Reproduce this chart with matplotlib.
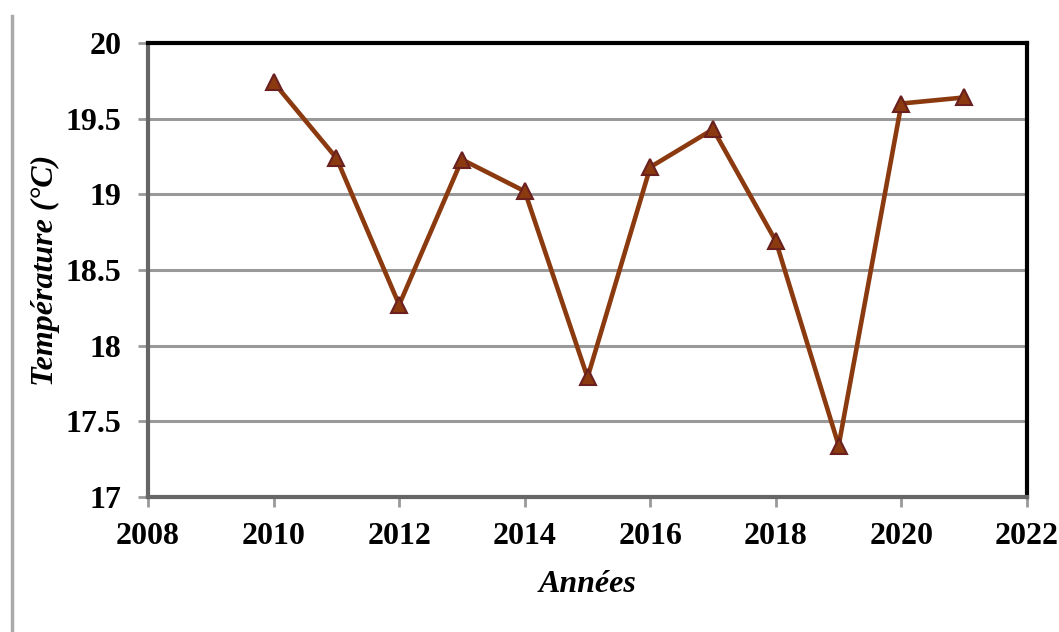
import matplotlib
matplotlib.use("Agg")
import matplotlib.pyplot as plt
from matplotlib.lines import Line2D

# Data
years = [2010, 2011, 2012, 2013, 2014, 2015, 2016, 2017, 2018, 2019, 2020, 2021]
temps = [19.74, 19.24, 18.27, 19.23, 19.02, 17.79, 19.18, 19.43, 18.69, 17.34, 19.60, 19.64]
x_ticks = [2008, 2010, 2012, 2014, 2016, 2018, 2020, 2022]
y_ticks = [17, 17.5, 18, 18.5, 19, 19.5, 20]
y_labels = ["17", "17.5", "18", "18.5", "19", "19.5", "20"]

plt.rcParams["font.family"] = ["Liberation Serif", "DejaVu Serif"]

fig = plt.figure(figsize=(10.59, 6.32), dpi=100)
ax = fig.add_axes([0.1398, 0.2136, 0.8300, 0.7184])

ax.plot(years, temps, color="#8B3A0F", lw=3.3, marker="^", ms=12,
        markerfacecolor="#8B3A0F", markeredgecolor="#6B2020", markeredgewidth=1.5,
        zorder=3)

ax.set_xlim(2008, 2022)
ax.set_ylim(17, 20)
ax.set_xticks(x_ticks)
ax.set_yticks(y_ticks)
ax.set_yticklabels(y_labels)
ax.grid(axis="y", color="#999999", lw=2.2)
ax.set_axisbelow(True)

for t in ax.get_xticklabels() + ax.get_yticklabels():
    t.set_fontweight("bold")
    t.set_fontsize(23)
ax.tick_params(axis="both", direction="out", length=7, width=2, color="#999999")
ax.tick_params(axis="x", pad=11)
ax.tick_params(axis="y", pad=12)

for side in ["top", "right"]:
    ax.spines[side].set_color("black")
    ax.spines[side].set_linewidth(3)
for side in ["left", "bottom"]:
    ax.spines[side].set_color("#666666")
    ax.spines[side].set_linewidth(3)

ax.set_xlabel("Années", fontsize=23, fontweight="bold", style="italic", labelpad=14)
ax.set_ylabel("Température (°C)", fontsize=23, fontweight="bold", style="italic", labelpad=4)

# Thin gray border line at the left of the figure
fig.add_artist(Line2D([0.0115, 0.0115], [0.0, 0.975], color="#aaaaaa", lw=2.5,
                      transform=fig.transFigure))

fig.savefig("out.png", dpi=100)
